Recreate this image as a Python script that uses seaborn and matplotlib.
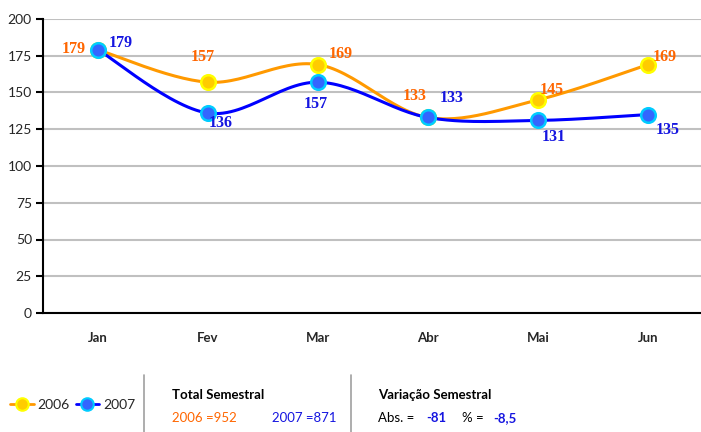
import numpy as np
import pandas as pd
import matplotlib
matplotlib.use("Agg")
import matplotlib.pyplot as plt
import seaborn as sns
from matplotlib.lines import Line2D

months = ["Jan", "Fev", "Mar", "Abr", "Mai", "Jun"]
v2006 = [179, 157, 169, 133, 145, 169]
v2007 = [179, 136, 157, 133, 131, 135]
yticks = [0, 25, 50, 75, 100, 125, 150, 175, 200]
total_2006 = "952"
total_2007 = "871"
var_abs = "-81"
var_pct = "-8,5"

sns.set_theme(style="white")
plt.rcParams['font.family'] = ['Lato', 'DejaVu Sans']

df = pd.DataFrame({"mes": months * 2,
                   "x": list(range(len(months))) * 2,
                   "valor": v2006 + v2007,
                   "ano": ["2006"] * len(months) + ["2007"] * len(months)})

fig = plt.figure(figsize=(7.01, 4.32), dpi=100)
ax = fig.add_axes([43/701, (432-313)/432, 660/701, (313-19)/432])


def smooth(xs, ys, n=30):
    xs = np.asarray(xs, float); ys = np.asarray(ys, float)
    P = np.column_stack([xs, ys])
    P = np.vstack([P[0], P, P[-1]])
    out = []
    for i in range(1, len(P) - 2):
        p0, p1, p2, p3 = P[i-1], P[i], P[i+1], P[i+2]
        t = np.linspace(0, 1, n)[:, None]
        c = 0.5 * ((2*p1) + (-p0 + p2)*t + (2*p0 - 5*p1 + 4*p2 - p3)*t**2 + (-p0 + 3*p1 - 3*p2 + p3)*t**3)
        out.append(c)
    c = np.vstack(out)
    return c[:, 0], c[:, 1]

styles = {
    "2006": dict(line="#FF9900", face="#FFCC00", edge="#FFFF00", label="#FF6600"),
    "2007": dict(line="#0000FF", face="#3366FF", edge="#00CCFF", label="#1515E0"),
}

for ano, vals in [("2006", v2006), ("2007", v2007)]:
    s = styles[ano]
    sx, sy = smooth(range(len(vals)), vals)
    sns.lineplot(x=sx, y=sy, ax=ax, color=s["line"], lw=2.2, sort=False, zorder=3)

for ano in ["2006", "2007"]:
    s = styles[ano]
    sub = df[df["ano"] == ano]
    sns.scatterplot(data=sub, x="x", y="valor", ax=ax, s=110, color=s["face"],
                    edgecolor=s["edge"], linewidth=1.8, zorder=4, legend=False)

off2006 = [(-24, 1), (-5, 25), (23, 11), (-13, 21), (14, 10), (17, 8)]
off2007 = [(23, 7), (13, -10), (-2, -22), (24, 19), (16, -17), (20, -15)]
for vals, offs, ano in [(v2006, off2006, "2006"), (v2007, off2007, "2007")]:
    for i, (v, o) in enumerate(zip(vals, offs)):
        ax.annotate(str(v), (i, v), xytext=o, textcoords="offset pixels",
                    ha="center", va="center", fontsize=11.5, fontweight="bold",
                    family="Liberation Serif", color=styles[ano]["label"], zorder=5)

ax.set_xlim(-0.5, 5.5)
ax.set_ylim(0, 200)
ax.set_yticks(yticks)
ax.set_yticklabels([str(t) for t in yticks], fontsize=10)
ax.set_xticks(range(len(months)))
ax.set_xticklabels(months, fontsize=9.5, fontweight="bold")
ax.set_xticks(np.arange(-0.5, 5.6, 1), minor=True)
ax.tick_params(axis="x", which="major", length=0, pad=14)
ax.tick_params(axis="x", which="minor", length=5, width=1.5, direction="out", color="black")
ax.tick_params(axis="y", length=5, width=1.5, direction="out", color="black", left=True, pad=3)
ax.grid(axis="y", color="#C0C0C0", lw=1.5, zorder=0)
ax.set_axisbelow(True)
for sp in ["top", "right"]:
    ax.spines[sp].set_visible(False)
for sp in ["left", "bottom"]:
    ax.spines[sp].set_color("black")
    ax.spines[sp].set_linewidth(1.5)
ax.set_xlabel(""); ax.set_ylabel("")

handles = [Line2D([], [], color=styles[a]["line"], lw=2, marker="o", markersize=9,
                  markerfacecolor=styles[a]["face"], markeredgecolor=styles[a]["edge"],
                  markeredgewidth=1.5) for a in ["2006", "2007"]]
fig.legend(handles, ["2006", "2007"], loc="center left", bbox_to_anchor=(10/701, (432-405)/432),
           ncol=2, frameon=False, prop={"size": 10},
           handlelength=1.7, handletextpad=0.3, columnspacing=0.4, borderpad=0, borderaxespad=0)

for xpix in [144, 351]:
    fig.add_artist(Line2D([xpix/701, xpix/701], [0, (432-375)/432], color="#A0A0A0", lw=1.2))

def ft(xp, yp, s, **kw):
    fig.text(xp/701, (432-yp)/432, s, va="center", fontsize=9.5, **kw)

ft(172, 395, "Total Semestral", fontweight="bold", color="black")
ft(172, 418, "2006 =" + total_2006, color="#FF6600")
ft(272, 418, "2007 =" + total_2007, color="#1515E0")
ft(378, 395, "Variação Semestral", fontweight="bold", color="black")
ft(378, 418, "Abs. =", color="black")
ft(426, 418, var_abs, fontweight="bold", color="#1515E0")
ft(462, 418, "% =", color="black")
ft(493, 418, var_pct, fontweight="bold", color="#1515E0")

fig.savefig("out.png", dpi=100)
